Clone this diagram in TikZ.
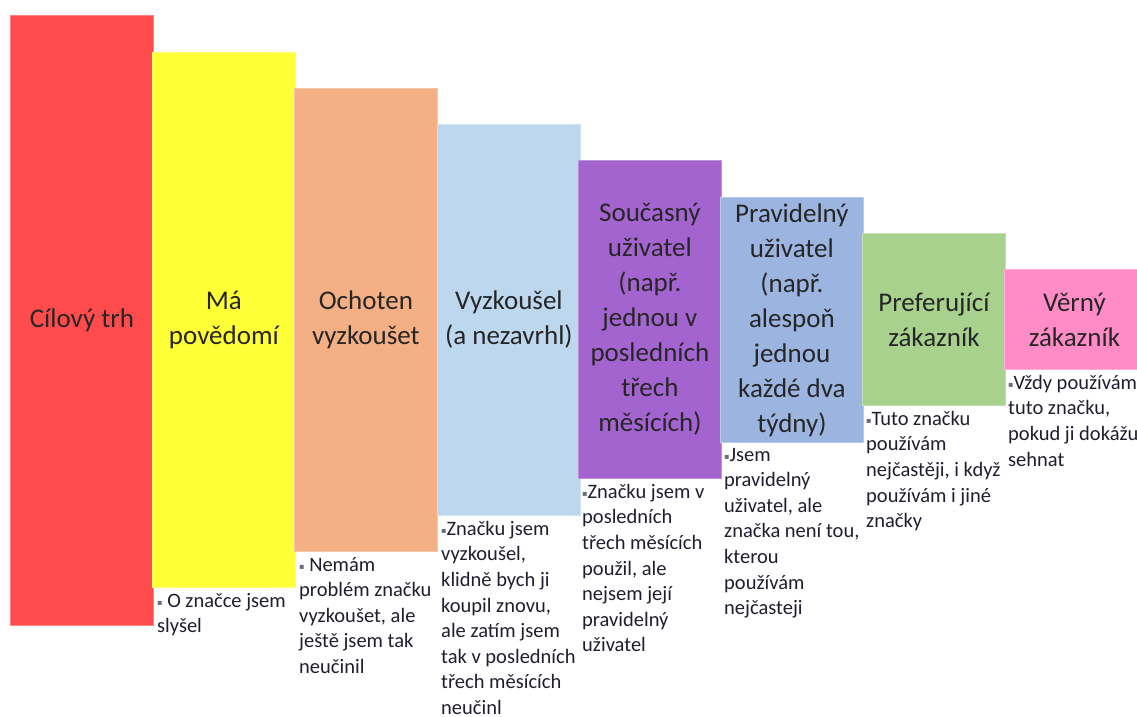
\documentclass[tikz,border=0pt]{standalone}
\usepackage{fontspec}
\setmainfont{Carlito}
\newfontfamily\symfont{DejaVu Sans}
\usetikzlibrary{positioning}
\definecolor{Red}{HTML}{FF4B4B}
\definecolor{Yellow}{HTML}{FFFF38}
\definecolor{Peach}{HTML}{F4B084}
\definecolor{Sky}{HTML}{BDD7EE}
\definecolor{Violet}{HTML}{A364D0}
\definecolor{Steel}{HTML}{9BB4E0}
\definecolor{Leaf}{HTML}{A9D18E}
\definecolor{Pink}{HTML}{FF8CC6}
\definecolor{Ink}{HTML}{262626}
\definecolor{Note}{HTML}{1E1E30}
\definecolor{Dot}{HTML}{6A6A80}
\newcommand{\bul}{{\symfont\fontsize{8}{8}\selectfont\raisebox{2pt}{\textcolor{Dot}{▪}}}}
\tikzset{
  bar/.style={
    anchor=north west,inner sep=0pt,minimum width=143pt,
    fill=#1,draw=#1!70!white,line width=0.8pt,
    align=center,font=\fontsize{27}{35}\selectfont,text=Ink
  },
  note/.style={
    anchor=north west,inner sep=0pt,align=left,
    font=\fontsize{20.5}{25.6}\selectfont,text=Note
  }
}
\begin{document}
\begin{tikzpicture}[x=1pt,y=-1pt]
      \useasboundingbox (0,0) rectangle (1137,716);
      % the funnel steps
      \node[bar=Red,minimum height=610pt] (target) at (10,15) {Cílový trh};
      \node[bar=Yellow,minimum height=535pt] (aware) at (152,52) {Má\\povědomí};
      \node[bar=Peach,minimum height=463pt] (willing) at (294,88) {Ochoten\\vyzkoušet};
      \node[bar=Sky,minimum height=391pt] (tried) at (437,124) {Vyzkoušel\\(a nezavrhl)};
      \node[bar=Violet,minimum height=318pt] (current) at (578,160)
        {Současný\\uživatel\\(např.\\jednou v\\posledních\\třech\\měsících)};
      \node[bar=Steel,minimum height=245pt] (regular) at (720,197)
        {Pravidelný\\uživatel\\(např.\\alespoň\\jednou\\každé dva\\týdny)};
      \node[bar=Leaf,minimum height=172pt] (prefer) at (862,233) {Preferující\\zákazník};
      \node[bar=Pink,minimum height=100pt,minimum width=140pt] (loyal) at (1004,269) {Věrný\\zákazník};

      % descriptions under each step
      \node[note] (awarenote) at ([xshift=5pt,yshift=-5pt]aware.south west)
        {\bul{} O značce jsem\\slyšel};
      \node[note] (willingnote) at ([xshift=5pt,yshift=-5pt]willing.south west)
        {\bul{} Nemám\\problém značku\\vyzkoušet, ale\\ještě jsem tak\\neučinil};
      \node[note] (triednote) at ([xshift=4pt,yshift=-5pt]tried.south west)
        {\bul Značku jsem\\vyzkoušel,\\klidně bych ji\\koupil znovu,\\ale zatím jsem\\tak v posledních\\třech měsících\\neučinl};
      \node[note] (currentnote) at ([xshift=4pt,yshift=-5pt]current.south west)
        {\bul Značku jsem v\\posledních\\třech měsících\\použil, ale\\nejsem její\\pravidelný\\uživatel};
      \node[note] (regularnote) at ([xshift=4pt,yshift=-5pt]regular.south west)
        {\bul Jsem\\pravidelný\\uživatel, ale\\značka není tou,\\kterou\\používám\\nejčasteji};
      \node[note] (prefernote) at ([xshift=4pt,yshift=-5pt]prefer.south west)
        {\bul Tuto značku\\používám\\nejčastěji, i když\\používám i jiné\\značky};
      \node[note] (loyalnote) at ([xshift=4pt,yshift=-5pt]loyal.south west)
        {\bul Vždy používám\\tuto značku,\\pokud ji dokážu\\sehnat};
    \end{tikzpicture}
\end{document}
